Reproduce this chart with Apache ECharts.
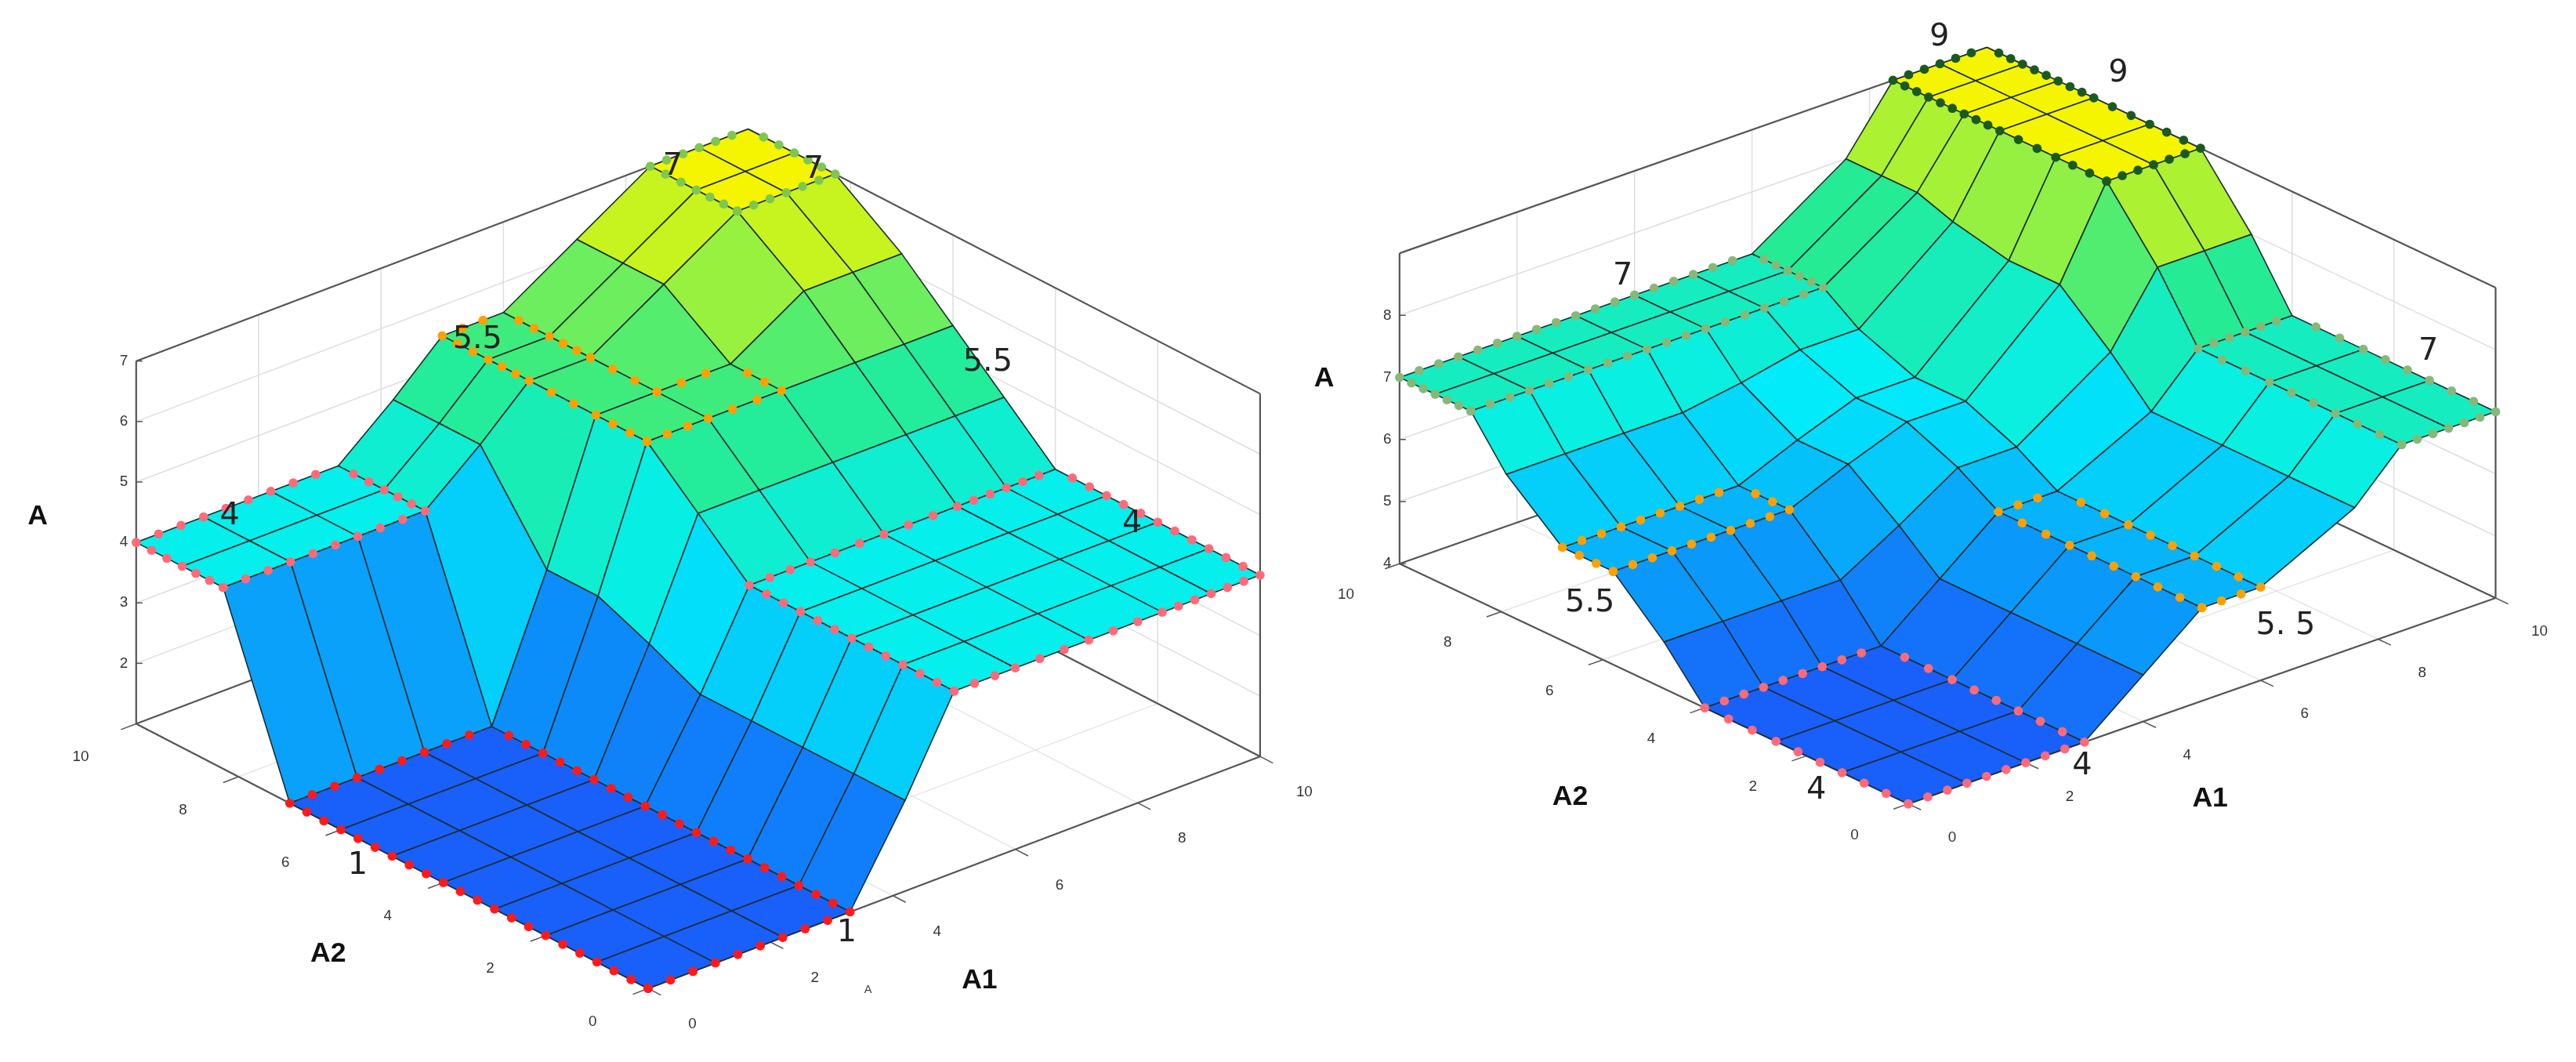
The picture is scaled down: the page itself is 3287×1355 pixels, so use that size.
<!DOCTYPE html>
<html><head><meta charset="utf-8">
<script src="https://cdn.jsdelivr.net/npm/echarts@6/dist/echarts.min.js"></script>
<style>html,body{margin:0;padding:0;background:#fff}#c{width:3287px;height:1355px}</style>
</head><body><div id="c"></div>
<script>
// ---------- data ----------
const LEFT_A1_GRID  = [0,1.1,2.2,3.3,4.2,5,6,7.2,8.4,9.2,10];
const LEFT_A2_GRID  = [0,1,2,3,4,5,6,7,8.3,9.1,10];
const RIGHT_A1_GRID = [0,1,2,3,4,5,6,7.6,8.4,9.2,10];
const RIGHT_A2_GRID = [0,1.3,2.6,4,4.8,5.8,6.8,7.9,8.6,9.3,10];
const A1_TICKS = [0,2,4,6,8,10];
const A2_TICKS = [0,2,4,6,8,10];
const LEFT_Z_TICKS = [2,3,4,5,6,7];
const RIGHT_Z_TICKS = [4,5,6,7,8];
// rows = A2 samples, columns = A1 samples
const LEFT_Z = [
 [1,1,1,1,2.5,4,4,4,4,4,4],
 [1,1,1,1,2.5,4,4,4,4,4,4],
 [1,1,1,1,2.5,4,4,4,4,4,4],
 [1,1,1,1,2.5,4,4,4,4,4,4],
 [1,1,1,1,2.5,4,4,4,4,4,4],
 [1,1,1,1,2.9,4.75,4.75,4.75,4.75,4.75,4.75],
 [1,1,1,1,3.25,5.5,5.5,5.5,5.5,5.5,5.5],
 [1,1,1,1,3.25,5.5,5.5,5.5,6.25,6.25,6.25],
 [4,4,4,4,4.75,5.5,5.5,6.25,7,7,7],
 [4,4,4,4,4.75,5.5,5.5,6.25,7,7,7],
 [4,4,4,4,4.75,5.5,5.5,6.25,7,7,7]
];
const RIGHT_Z = [
 [4,4,4,4,4.75,5.5,5.5,6.25,7,7,7],
 [4,4,4,4,4.75,5.5,5.5,6.25,7,7,7],
 [4,4,4,4,4.75,5.5,5.5,6.25,7,7,7],
 [4,4,4,4,4.75,5.5,5.5,6.25,7,7,7],
 [4.75,4.75,4.75,4.75,5.3,5.9,5.9,6.9,8,8,8],
 [5.5,5.5,5.5,5.5,5.9,6.25,6.25,7.6,9,9,9],
 [5.5,5.5,5.5,5.5,5.9,6.25,6.25,7.6,9,9,9],
 [6.25,6.25,6.25,6.25,6.4,6.6,6.6,7.8,9,9,9],
 [7,7,7,7,7,7,7,8,9,9,9],
 [7,7,7,7,7,7,7,8,9,9,9],
 [7,7,7,7,7,7,7,8,9,9,9]
];
const LEFT_LEVELS = [1,4,5.5,7];
const LEFT_LEVEL_COLORS = ['#ff1a1a','#ff6a78','#ffa000','#7ec850'];
const RIGHT_LEVELS = [4,5.5,7,9];
const RIGHT_LEVEL_COLORS = ['#ff6a78','#ffa000','#86b878','#1a5a22'];
const LEFT_LABELS = [['7',410,102],['7',496,104],['5.5',291,208],['5.5',602,222],['4',140,316],['4',690,321],['1',218,530],['1',516,571]];
const RIGHT_LABELS = [['9',1182,23],['9',1291,45],['7',989,169],['7',1480,215],['5.5',969,369],['5. 5',1393,383],['4',1107,484],['4',1269,469]];
const AXIS_TITLES = [['A',23,316],['A2',200,584],['A1',597,600],['A',807,232],['A2',957,488],['A1',1347,489]];

// ---------- view geometry (reference px, scaled) ----------
const W = 3287, H = 1355, SX = W/1570, SY = H/650;
const VIEWS = {
  left:  {O:[395,605], u:[37.3,-14.2], v:[-31.2,-16.2], w:[0,-37], z0:1, zTop:7, Z:LEFT_Z, g1:LEFT_A1_GRID, g2:LEFT_A2_GRID, zMin:1, zMax:7, zt:LEFT_Z_TICKS, levels:LEFT_LEVELS, lc:LEFT_LEVEL_COLORS},
  right: {O:[1163,492], u:[35.8,-12.6], v:[-31,-14.7], w:[0,-38], z0:4, zTop:9, Z:RIGHT_Z, g1:RIGHT_A1_GRID, g2:RIGHT_A2_GRID, zMin:4, zMax:9, zt:RIGHT_Z_TICKS, levels:RIGHT_LEVELS, lc:RIGHT_LEVEL_COLORS}
};
function proj(V,a1,a2,z){
  return [(V.O[0]+a1*V.u[0]+a2*V.v[0]+(z-V.z0)*V.w[0])*SX,
          (V.O[1]+a1*V.u[1]+a2*V.v[1]+(z-V.z0)*V.w[1])*SY];
}
const STOPS = [[0,[25,95,250]],[0.22,[10,150,250]],[0.47,[0,240,250]],[0.72,[40,235,140]],[1,[245,245,0]]];
function cmap(t){
  t=Math.max(0,Math.min(1,t));
  for(let k=1;k<STOPS.length;k++){ if(t<=STOPS[k][0]){const a=STOPS[k-1],b=STOPS[k],f=(t-a[0])/(b[0]-a[0]);
    return 'rgb('+a[1].map((c,m)=>Math.round(c+(b[1][m]-c)*f)).join(',')+')';}}
  return 'rgb(245,245,0)';
}
function cells(){ const c=[]; for(let j=0;j<10;j++)for(let i=0;i<10;i++)c.push([i,j]); c.sort((p,q)=>(q[0]+q[1])-(p[0]+p[1])); return c; }
function dots(V){
  const Z=V.Z, g1=V.g1, g2=V.g2, out=[];
  const flat=(i,j,L)=> i>=0&&j>=0&&i<10&&j<10&&Z[j][i]===L&&Z[j][i+1]===L&&Z[j+1][i]===L&&Z[j+1][i+1]===L;
  V.levels.forEach((L,li)=>{
    for(let j=0;j<=10;j++)for(let i=0;i<10;i++){
      if(flat(i,j-1,L)!==flat(i,j,L)){ for(let f=0;f<3;f++) out.push([g1[i]+(g1[i+1]-g1[i])*f/3,g2[j],L,li]); }
    }
    for(let i=0;i<=10;i++)for(let j=0;j<10;j++){
      if(flat(i-1,j,L)!==flat(i,j,L)){ for(let f=0;f<3;f++) out.push([g1[i],g2[j]+(g2[j+1]-g2[j])*f/3,L,li]); }
    }
  });
  return out;
}
function boxSeries(V){
  return {type:'custom', coordinateSystem:'none', silent:true, data:[[0]], renderItem:function(){
    const ch=[]; const line=(p,q,c,w)=>ch.push({type:'line',shape:{x1:p[0],y1:p[1],x2:q[0],y2:q[1]},style:{stroke:c,lineWidth:w}});
    const P=(a,b,z)=>proj(V,a,b,z);
    A1_TICKS.forEach(t=>line(P(t,10,V.z0),P(t,10,V.zTop),'#dedede',1.5));
    A2_TICKS.forEach(t=>line(P(10,t,V.z0),P(10,t,V.zTop),'#dedede',1.5));
    V.zt.forEach(z=>{line(P(0,10,z),P(10,10,z),'#dedede',1.5);line(P(10,10,z),P(10,0,z),'#dedede',1.5);});
    A1_TICKS.forEach(t=>line(P(t,0,V.z0),P(t,10,V.z0),'#e6e6e6',1.5));
    A2_TICKS.forEach(t=>line(P(0,t,V.z0),P(10,t,V.z0),'#e6e6e6',1.5));
    const fc='#555',fw=2.2;
    line(P(0,10,V.z0),P(0,10,V.zTop),fc,fw); line(P(10,10,V.z0),P(10,10,V.zTop),fc,fw); line(P(10,0,V.z0),P(10,0,V.zTop),fc,fw);
    line(P(0,10,V.zTop),P(10,10,V.zTop),fc,fw); line(P(10,10,V.zTop),P(10,0,V.zTop),fc,fw);
    line(P(0,10,V.z0),P(10,10,V.z0),fc,fw); line(P(10,10,V.z0),P(10,0,V.z0),fc,fw);
    line(P(0,10,V.z0),P(0,0,V.z0),fc,fw); line(P(0,0,V.z0),P(10,0,V.z0),fc,fw);
    A2_TICKS.forEach(t=>line(P(0,t,V.z0),P(-0.25,t,V.z0),fc,1.5));
    A1_TICKS.forEach(t=>line(P(t,0,V.z0),P(t,-0.25,V.z0),fc,1.5));
    V.zt.forEach(z=>{const p=P(0,10,z); line(p,[p[0]+8,p[1]],fc,1.5);});
    const fs=9*SX, ff='Liberation Sans';
    A2_TICKS.forEach(t=>{const p=P(-0.8,t,V.z0); ch.push({type:'text',style:{text:String(t),x:p[0]-4*SX,y:p[1]+9*SY,fontSize:fs,fill:'#333',align:'center',verticalAlign:'middle',fontFamily:ff}});});
    A1_TICKS.forEach(t=>{const p=P(t,-0.8,V.z0); ch.push({type:'text',style:{text:String(t),x:p[0]+2*SX,y:p[1]+9*SY,fontSize:fs,fill:'#333',align:'center',verticalAlign:'middle',fontFamily:ff}});});
    V.zt.forEach(z=>{const p=P(0,10,z); ch.push({type:'text',style:{text:String(z),x:p[0]-5*SX,y:p[1],fontSize:fs,fill:'#333',align:'right',verticalAlign:'middle',fontFamily:ff}});});
    return {type:'group',children:ch};
  }};
}
function surfSeries(V){
  return {type:'custom', coordinateSystem:'none', silent:true, data:cells(), renderItem:function(params,api){
    const i=api.value(0), j=api.value(1), Z=V.Z, g1=V.g1, g2=V.g2;
    const zs=[Z[j][i],Z[j][i+1],Z[j+1][i+1],Z[j+1][i]];
    const pts=[proj(V,g1[i],g2[j],zs[0]),proj(V,g1[i+1],g2[j],zs[1]),proj(V,g1[i+1],g2[j+1],zs[2]),proj(V,g1[i],g2[j+1],zs[3])];
    const zm=(zs[0]+zs[1]+zs[2]+zs[3])/4;
    return {type:'polygon',shape:{points:pts},style:{fill:cmap((zm-V.zMin)/(V.zMax-V.zMin)),stroke:'#1c2e2e',lineWidth:1.6,lineJoin:'round'}};
  }};
}
function dotSeries(V){
  return {type:'custom', coordinateSystem:'none', silent:true, data:dots(V), renderItem:function(params,api){
    const p=proj(V,api.value(0),api.value(1),api.value(2));
    return {type:'circle',shape:{cx:p[0],cy:p[1],r:2.8*SX},style:{fill:V.lc[api.value(3)]}};
  }};
}
const graphics=[];
LEFT_LABELS.concat(RIGHT_LABELS).forEach(l=>graphics.push({type:'text',x:l[1]*SX,y:l[2]*SY,style:{text:l[0],fontSize:19*SX,fill:'#222',align:'center',verticalAlign:'middle',fontFamily:'DejaVu Sans'},z:100}));
AXIS_TITLES.forEach(l=>graphics.push({type:'text',x:l[1]*SX,y:l[2]*SY,style:{text:l[0],fontSize:17*SX,fontWeight:'bold',fill:'#111',align:'center',verticalAlign:'middle',fontFamily:'Liberation Sans'},z:100}));
graphics.push({type:'text',x:529*SX,y:606*SY,style:{text:'A',fontSize:7*SX,fill:'#444',align:'center',verticalAlign:'middle',fontFamily:'Liberation Sans'},z:100});

const chart=echarts.init(document.getElementById('c'),null,{renderer:'canvas'});
chart.setOption({
  animation:false, backgroundColor:'#fff',
  graphic:graphics,
  series:[boxSeries(VIEWS.left),surfSeries(VIEWS.left),dotSeries(VIEWS.left),
          boxSeries(VIEWS.right),surfSeries(VIEWS.right),dotSeries(VIEWS.right)]
});
</script></body></html>
